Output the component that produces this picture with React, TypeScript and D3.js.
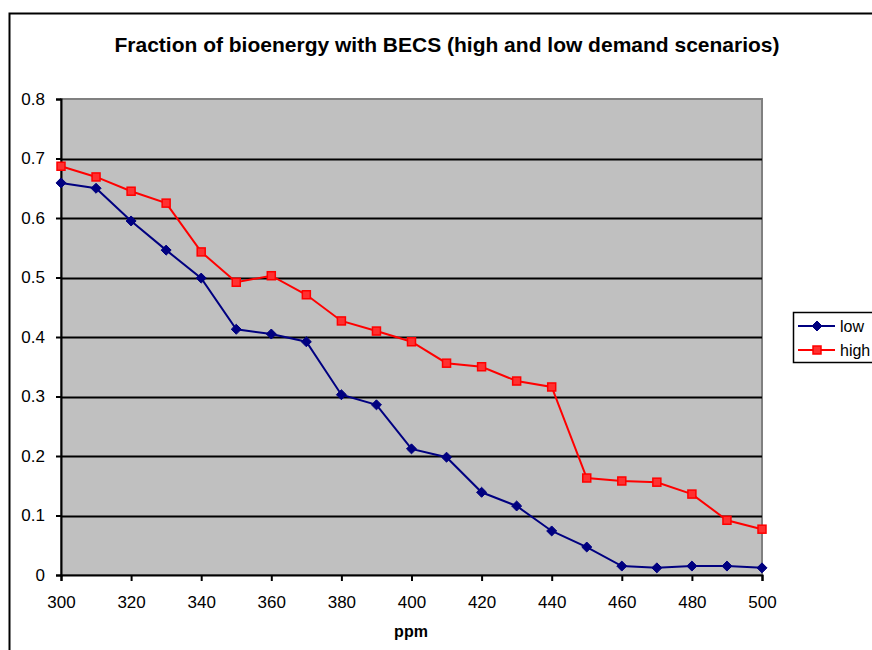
import React, { useEffect, useRef } from 'react';
import * as d3 from 'd3';

const ppm = [300, 310, 320, 330, 340, 350, 360, 370, 380, 390, 400, 410, 420, 430, 440, 450, 460, 470, 480, 490, 500];
const low = [0.659, 0.65, 0.595, 0.546, 0.499, 0.413, 0.405, 0.392, 0.303, 0.286, 0.212, 0.198, 0.139, 0.116, 0.074, 0.047, 0.015, 0.012, 0.015, 0.015, 0.012];
const high = [0.687, 0.669, 0.645, 0.625, 0.543, 0.492, 0.503, 0.471, 0.427, 0.41, 0.392, 0.356, 0.35, 0.326, 0.316, 0.163, 0.158, 0.156, 0.136, 0.092, 0.077];
const xTicks = [300, 320, 340, 360, 380, 400, 420, 440, 460, 480, 500];
const yTicks = [0, 0.1, 0.2, 0.3, 0.4, 0.5, 0.6, 0.7, 0.8];

const font = 'Liberation Sans, Arial, sans-serif';

const App: React.FC = () => {
  const svgRef = useRef<SVGSVGElement>(null);

  useEffect(() => {
    if (!svgRef.current) return;
    const svg = d3.select(svgRef.current);
    svg.selectAll('*').remove();

    const left = 61, right = 762, top = 99, bottom = 575;
    const x = d3.scaleLinear().domain([300, 500]).range([left, right]);
    const y = d3.scaleLinear().domain([0, 0.8]).range([bottom, top]);

    // outer chart border (runs off the right / bottom edge)
    svg.append('rect')
      .attr('x', 9.5).attr('y', 13.5).attr('width', 900).attr('height', 700)
      .attr('fill', 'white').attr('stroke', 'black').attr('stroke-width', 2);

    svg.append('text')
      .attr('x', 447).attr('y', 52)
      .attr('text-anchor', 'middle')
      .attr('font-family', font).attr('font-size', 21).attr('font-weight', 'bold')
      .text('Fraction of bioenergy with BECS (high and low demand scenarios)');

    // plot area
    svg.append('rect')
      .attr('x', left).attr('y', top).attr('width', right - left).attr('height', bottom - top)
      .attr('fill', '#c0c0c0').attr('stroke', '#808080').attr('stroke-width', 2);

    svg.append('g')
      .selectAll('line')
      .data(yTicks.filter(d => d > 0 && d < 0.8))
      .join('line')
      .attr('x1', left).attr('x2', right)
      .attr('y1', d => Math.round(y(d)) + 0.5).attr('y2', d => Math.round(y(d)) + 0.5)
      .attr('stroke', 'black').attr('stroke-width', 2);

    const yAxis = svg.append('g')
      .attr('transform', `translate(${left},0)`)
      .call(d3.axisLeft(y).tickValues(yTicks).tickFormat(d => String(+(+d).toFixed(1))).tickSize(5).tickPadding(11));
    yAxis.select('.domain').attr('stroke-width', 2);
    yAxis.selectAll('.tick line').attr('stroke-width', 2);
    yAxis.selectAll('text').attr('font-family', font).attr('font-size', 17).attr('fill', 'black');

    const xAxis = svg.append('g')
      .attr('transform', `translate(0,${bottom})`)
      .call(d3.axisBottom(x).tickValues(xTicks).tickFormat(d3.format('d')).tickSize(6).tickPadding(15));
    xAxis.select('.domain').attr('stroke-width', 2);
    xAxis.selectAll('.tick line').attr('stroke-width', 2);
    xAxis.selectAll('text').attr('font-family', font).attr('font-size', 17).attr('fill', 'black');

    svg.append('text')
      .attr('x', 411).attr('y', 637)
      .attr('text-anchor', 'middle')
      .attr('font-family', font).attr('font-size', 16).attr('font-weight', 'bold')
      .text('ppm');

    const line = d3.line<number>().x((_, i) => x(ppm[i])).y(d => y(d));
    const diamond = d3.symbol().type(d3.symbolDiamond2).size(64);

    svg.append('path').datum(low)
      .attr('d', line).attr('fill', 'none').attr('stroke', '#000080').attr('stroke-width', 2);
    svg.append('g').selectAll('path').data(low).join('path')
      .attr('transform', (d, i) => `translate(${x(ppm[i])},${y(d)})`)
      .attr('d', diamond).attr('fill', '#000080').attr('stroke', '#000080');

    svg.append('path').datum(high)
      .attr('d', line).attr('fill', 'none').attr('stroke', '#ff0000').attr('stroke-width', 2);
    svg.append('g').selectAll('rect').data(high).join('rect')
      .attr('x', (_, i) => x(ppm[i]) - 4).attr('y', d => y(d) - 4)
      .attr('width', 8).attr('height', 8)
      .attr('fill', '#ff3030').attr('stroke', '#ff0000').attr('stroke-width', 1.5);

    // legend
    const lg = svg.append('g');
    lg.append('rect').attr('x', 793.5).attr('y', 312.5).attr('width', 100).attr('height', 50)
      .attr('fill', 'white').attr('stroke', 'black').attr('stroke-width', 1.5);
    const items = [
      { name: 'low', color: '#000080', yy: 326 },
      { name: 'high', color: '#ff0000', yy: 350 },
    ];
    items.forEach(it => {
      lg.append('line').attr('x1', 798).attr('x2', 835).attr('y1', it.yy).attr('y2', it.yy)
        .attr('stroke', it.color).attr('stroke-width', 2);
      if (it.name === 'low') {
        lg.append('path').attr('transform', `translate(817,${it.yy})`).attr('d', diamond)
          .attr('fill', it.color).attr('stroke', it.color);
      } else {
        lg.append('rect').attr('x', 813).attr('y', it.yy - 4).attr('width', 8).attr('height', 8)
          .attr('fill', '#ff3030').attr('stroke', '#ff0000').attr('stroke-width', 1.5);
      }
      lg.append('text').attr('x', 840).attr('y', it.yy + 6)
        .attr('font-family', font).attr('font-size', 16).text(it.name);
    });
  }, []);

  return (
    <svg ref={svgRef} width={872} height={650}
      style={{ position: 'absolute', left: 0, top: 0, display: 'block' }} />
  );
};

export default App;
